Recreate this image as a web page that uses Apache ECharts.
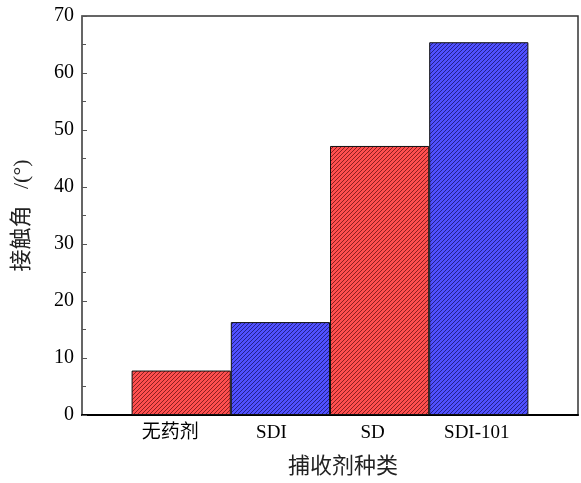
<!DOCTYPE html>
<html>
<head>
<meta charset="utf-8">
<script src="https://cdn.jsdelivr.net/npm/echarts@6/dist/echarts.min.js"></script>
<style>html,body{margin:0;padding:0;background:#fff}#c{width:581px;height:483px}</style>
</head>
<body>
<div id="c"></div>
<script>
// Data
var categories = ['', '无药剂', 'SDI', 'SD', 'SDI-101', ''];
var values = [null, 7.8, 16.3, 47.2, 65.4, null];
var barKinds = [null, 'red', 'blue', 'red', 'blue', null];
var yTicks = [0, 10, 20, 30, 40, 50, 60, 70];

function makePattern(base, stripe) {
  var s = 4;
  var cv = document.createElement('canvas');
  cv.width = s; cv.height = s;
  var ctx = cv.getContext('2d');
  ctx.fillStyle = base;
  ctx.fillRect(0, 0, s, s);
  ctx.strokeStyle = stripe;
  ctx.lineWidth = 1;
  ctx.beginPath();
  ctx.moveTo(-1, s + 1); ctx.lineTo(s + 1, -1);
  ctx.moveTo(-1, 1); ctx.lineTo(1, -1);
  ctx.moveTo(s - 1, s + 1); ctx.lineTo(s + 1, s - 1);
  ctx.stroke();
  return cv;
}
var patterns = {
  red: { image: makePattern('#ff4f4f', '#8c2020'), repeat: 'repeat' },
  blue: { image: makePattern('#5050ff', '#22228c'), repeat: 'repeat' }
};
var labelPad = { '无药剂': 22, 'SDI': 18, 'SD': 14, 'SDI-101': 4 };

var font = "'Liberation Serif', 'Noto Sans CJK SC', serif";
var chart = echarts.init(document.getElementById('c'));
chart.setOption({
  animation: false,
  grid: { left: 82, right: 2, top: 16, bottom: 66, show: true, borderColor: '#333', borderWidth: 1.5 },
  xAxis: {
    type: 'category',
    boundaryGap: false,
    data: categories.map(function (c) {
      return { value: c, textStyle: { padding: [0, labelPad[c] || 0, 0, 0] } };
    }),
    axisLine: { lineStyle: { color: '#000', width: 2 } },
    axisTick: { show: false },
    axisLabel: { interval: 0, fontFamily: font, fontSize: 19, color: '#000', margin: 9 },
    name: '捕收剂种类',
    nameLocation: 'middle',
    nameGap: 41,
    nameTextStyle: { fontFamily: font, fontSize: 22, color: '#222', padding: [0, 0, 0, 26] },
    splitLine: { show: false }
  },
  yAxis: {
    type: 'value',
    min: yTicks[0],
    max: yTicks[yTicks.length - 1],
    interval: 10,
    axisLine: { show: true, lineStyle: { color: '#666', width: 1.5 } },
    axisTick: { show: true, inside: true, length: 5, lineStyle: { color: '#555' } },
    minorTick: { show: true, splitNumber: 2, length: 4, lineStyle: { color: '#555' } },
    axisLabel: { fontFamily: font, fontSize: 20, color: '#000', margin: 8 },
    splitLine: { show: false },
    name: '接触角   /(°)',
    nameLocation: 'middle',
    nameGap: 49,
    nameTextStyle: { fontFamily: font, fontSize: 22, color: '#222' }
  },
  series: [{
    type: 'bar',
    barWidth: '100%',
    data: values.map(function (v, i) {
      return {
        value: v,
        itemStyle: barKinds[i] ? { color: patterns[barKinds[i]], borderColor: '#111', borderWidth: 1 } : {}
      };
    })
  }]
});
</script>
</body>
</html>
